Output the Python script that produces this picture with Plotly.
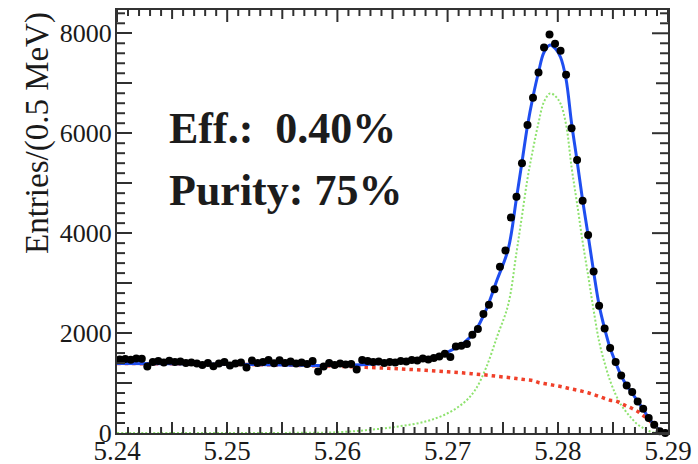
import plotly.graph_objects as go

# Histogram of beam-constrained mass, 0.5 MeV bins from 5.24 to 5.29 GeV
bin_low = 5.24
bin_width = 0.0005
entries = [
    1470, 1480, 1465, 1490, 1485, 1330, 1420, 1440, 1410, 1445,
    1420, 1430, 1400, 1410, 1390, 1360, 1400, 1335, 1390, 1420,
    1350, 1390, 1410, 1310, 1450, 1400, 1420, 1460, 1395, 1455,
    1400, 1430, 1390, 1410, 1380, 1440, 1230, 1330, 1400, 1360,
    1390, 1370, 1380, 1270, 1460, 1440, 1420, 1430, 1400, 1420,
    1410, 1440, 1430, 1460, 1450, 1490, 1470, 1500, 1530, 1585,
    1520, 1730, 1745, 1780, 1965, 2080, 2380, 2565, 2875, 3325,
    3655, 4315, 4730, 5400, 6165, 6710, 7215, 7715, 7975, 7790,
    7650, 7170, 6100, 5465, 4650, 3965, 3230, 2545, 2090, 1700,
    1420, 1150, 950, 820, 630, 485, 300, 165, 35, 0,
]
bin_centers = [round(bin_low + (i + 0.5) * bin_width, 5) for i in range(len(entries))]

# Fit components sampled along the mass axis
curve_mass = [
    5.2400, 5.2450, 5.2500, 5.2550, 5.2600, 5.2630, 5.2655, 5.2680, 5.2700, 5.2715,
    5.2725, 5.2735, 5.2745, 5.2755, 5.27625, 5.27675, 5.27725, 5.27775, 5.27825, 5.27875,
    5.2793, 5.27975, 5.28025, 5.28075, 5.28125, 5.28175, 5.28225, 5.28275, 5.28325, 5.28375,
    5.28425, 5.28475, 5.28525, 5.28575, 5.28625, 5.28675, 5.28725, 5.28775, 5.28825, 5.28875,
    5.28925, 5.2900,
]
total_fit = [
    1390, 1385, 1375, 1362, 1350, 1375, 1415, 1485, 1620, 1810,
    2040, 2470, 3070, 3680, 4700, 5420, 6150, 6730, 7220, 7620,
    7765, 7700, 7520, 7080, 6200, 5450, 4660, 3960, 3230, 2560,
    2090, 1700, 1410, 1150, 950, 800, 630, 480, 300, 170,
    55, 0,
]
background_fit = [
    1390, 1385, 1375, 1360, 1335, 1310, 1285, 1255, 1225, 1200,
    1180, 1160, 1135, 1110, 1090, 1075, 1062, 1048, 1012, 990,
    968, 950, 930, 905, 880, 858, 833, 805, 770, 730,
    690, 655, 640, 590, 540, 490, 430, 350, 260, 160,
    55, 0,
]
signal_fit = [
    0, 0, 0, 2, 15, 65, 130, 230, 395, 610,
    860, 1310, 1935, 2570, 3610, 4345, 5090, 5680, 6210, 6630,
    6797, 6750, 6590, 6175, 5320, 4590, 3830, 3155, 2460, 1830,
    1400, 1045, 770, 560, 410, 280, 170, 100, 40, 10,
    0, 0,
]

# axis ticks: labelled majors plus unlabelled half-way ticks
x_ticks = [5.24, 5.245, 5.25, 5.255, 5.26, 5.265, 5.27, 5.275, 5.28, 5.285, 5.29]
x_labels = ["5.24", "", "5.25", "", "5.26", "", "5.27", "", "5.28", "", "5.29"]
y_ticks = [0, 1000, 2000, 3000, 4000, 5000, 6000, 7000, 8000]
y_labels = ["0", "", "2000", "", "4000", "", "6000", "", "8000"]
x_range = [5.24, 5.29]
y_range = [0, 8466]

serif = "Liberation Serif, Times New Roman, serif"
frame_col = "#333333"
tick_col = "#303030"

fig = go.Figure()

fig.add_trace(go.Scatter(
    x=curve_mass, y=signal_fit, mode="lines", line_shape="spline",
    line=dict(color="#8ee26e", width=2, dash="2px,2px"), showlegend=False,
))
fig.add_trace(go.Scatter(
    x=curve_mass, y=background_fit, mode="lines", line_shape="spline",
    line=dict(color="#f0402a", width=3.5, dash="3.5px,4px"), showlegend=False,
))
fig.add_trace(go.Scatter(
    x=curve_mass, y=total_fit, mode="lines", line_shape="spline",
    line=dict(color="#1f4ef0", width=3), showlegend=False,
))
fig.add_trace(go.Scatter(
    x=bin_centers, y=entries, mode="markers",
    marker=dict(color="black", size=8), cliponaxis=False, showlegend=False,
))

# fine inward ticks on all four sides, plus mirrored long ticks on top and right
tick_shapes = []
for i in range(51):
    xv = round(5.24 + i * 0.001, 3)
    length = 12 if i % 10 == 0 else (9 if i % 5 == 0 else 6)
    for anchor, sign in ((0, 1), (1, -1)):
        if anchor == 0 and i % 5 == 0:
            continue
        tick_shapes.append(dict(
            type="line", xref="x", yref="paper", x0=xv, x1=xv,
            ysizemode="pixel", yanchor=anchor, y0=0, y1=sign * length,
            line=dict(color=tick_col, width=2), layer="above",
        ))
for i in range(43):
    yv = i * 200
    length = 16 if i % 10 == 0 else (12 if i % 5 == 0 else 8)
    for anchor, sign in ((0, 1), (1, -1)):
        if anchor == 0 and i % 5 == 0:
            continue
        tick_shapes.append(dict(
            type="line", xref="paper", yref="y", y0=yv, y1=yv,
            xsizemode="pixel", xanchor=anchor, x0=0, x1=sign * length,
            line=dict(color=tick_col, width=2), layer="above",
        ))

fig.update_layout(
    width=698, height=464,
    margin=dict(l=117, r=30, t=10, b=31),
    paper_bgcolor="white", plot_bgcolor="white",
    shapes=tick_shapes,
    xaxis=dict(
        range=x_range, tickmode="array", tickvals=x_ticks, ticktext=x_labels,
        ticks="inside", ticklen=11, tickwidth=2, tickcolor=tick_col,
        ticklabelstandoff=-7, automargin=False,
        showline=True, linecolor=frame_col, linewidth=2, mirror=True,
        showgrid=False, zeroline=False,
        tickfont=dict(family=serif, size=27, color="#1a1a1a"),
    ),
    yaxis=dict(
        range=y_range, tickmode="array", tickvals=y_ticks, ticktext=y_labels,
        ticks="inside", ticklen=15, tickwidth=2, tickcolor=tick_col,
        ticklabelstandoff=-2, automargin=False,
        showline=True, linecolor=frame_col, linewidth=2, mirror=True,
        showgrid=False, zeroline=False,
        tickfont=dict(family=serif, size=26, color="#1a1a1a"),
    ),
    annotations=[
        dict(text="Entries/(0.5 MeV)", textangle=-90, xref="paper", yref="paper",
             x=0, xshift=-80, y=1, yanchor="top", xanchor="center", showarrow=False,
             font=dict(family=serif, size=33, color="#1a1a1a")),
        dict(text="<b>Eff.:\u00a0\u00a00.40%</b>", xref="paper", yref="paper",
             x=0.0907, y=0.721, xanchor="left", yanchor="middle", showarrow=False,
             font=dict(family=serif, size=44, color="#1c1c1c")),
        dict(text="<b>Purity: 75%</b>", xref="paper", yref="paper",
             x=0.0907, y=0.574, xanchor="left", yanchor="middle", showarrow=False,
             font=dict(family=serif, size=44, color="#1c1c1c")),
    ],
)

fig.write_html("out.html")
